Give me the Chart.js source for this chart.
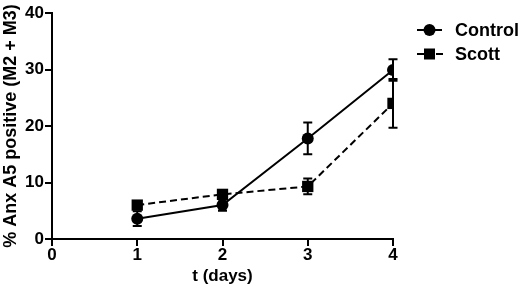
<!DOCTYPE html>
<html>
<head>
<meta charset="utf-8">
<script src="https://cdn.jsdelivr.net/npm/chart.js@4.4.1/dist/chart.umd.min.js"></script>
<style>
  html, body { margin: 0; padding: 0; background: #fff; }
</style>
</head>
<body>
<canvas id="chart" width="520" height="294"></canvas>
<script>
// values (mean and SEM per day)
const days = [1, 2, 3, 4];
const controlMean = [3.6, 6.0, 17.8, 29.9];
const controlErr = [1.3, 1.0, 2.8, 1.9];
const scottMean = [6.0, 7.9, 9.3, 24.0];
const scottErr = [0.5, 0.6, 1.4, 4.3];
const xTicks = [0, 1, 2, 3, 4];
const yTicks = [0, 10, 20, 30, 40];
const seriesNames = ['Control', 'Scott'];

const FONT = "'Liberation Sans', Arial, sans-serif";
const font = size => ({ family: FONT, size, weight: 'bold' });

const errorBars = {
    id: 'errorBars',
    afterDatasetsDraw(chart) {
        const { ctx, scales: { x, y } } = chart;
        ctx.save();
        ctx.strokeStyle = '#000';
        ctx.lineWidth = 2;
        [[controlMean, controlErr], [scottMean, scottErr]].forEach(([mean, err]) => {
            days.forEach((d, i) => {
                const px = x.getPixelForValue(d);
                const top = y.getPixelForValue(mean[i] + err[i]);
                const bot = y.getPixelForValue(mean[i] - err[i]);
                ctx.beginPath();
                ctx.moveTo(px, top); ctx.lineTo(px, bot);
                ctx.moveTo(px - 4.5, top); ctx.lineTo(px + 4.5, top);
                ctx.moveTo(px - 4.5, bot); ctx.lineTo(px + 4.5, bot);
                ctx.stroke();
            });
        });
        ctx.restore();
    }
};

// legend: line sample with marker, like the original
const sideLegend = {
    id: 'sideLegend',
    afterDraw(chart) {
        const { ctx } = chart;
        const x0 = chart.chartArea.right + 24;
        ctx.save();
        ctx.strokeStyle = '#000';
        ctx.fillStyle = '#000';
        ctx.lineWidth = 2;
        ctx.font = `bold 18px ${FONT}`;
        ctx.textBaseline = 'middle';

        let yy = 30;
        ctx.beginPath();
        ctx.moveTo(x0, yy); ctx.lineTo(x0 + 25, yy);
        ctx.stroke();
        ctx.beginPath();
        ctx.arc(x0 + 12.5, yy, 6, 0, Math.PI * 2);
        ctx.fill();
        ctx.fillText(seriesNames[0], x0 + 38, yy + 1);

        yy = 54;
        ctx.beginPath();
        ctx.moveTo(x0, yy); ctx.lineTo(x0 + 7, yy);
        ctx.moveTo(x0 + 19, yy); ctx.lineTo(x0 + 26, yy);
        ctx.stroke();
        ctx.fillRect(x0 + 7, yy - 5.5, 11, 11);
        ctx.fillText(seriesNames[1], x0 + 38, yy + 1);
        ctx.restore();
    }
};

new Chart(document.getElementById('chart'), {
    type: 'scatter',
    data: {
        datasets: [
            {
                label: seriesNames[0],
                data: days.map((d, i) => ({ x: d, y: controlMean[i] })),
                showLine: true,
                borderColor: '#000',
                backgroundColor: '#000',
                borderWidth: 2,
                pointStyle: 'circle',
                pointRadius: 6,
                pointBorderWidth: 0
            },
            {
                label: seriesNames[1],
                data: days.map((d, i) => ({ x: d, y: scottMean[i] })),
                showLine: true,
                borderColor: '#000',
                backgroundColor: '#000',
                borderWidth: 2,
                borderDash: [7, 4],
                pointStyle: 'rect',
                pointRadius: 8,
                pointBorderWidth: 0
            }
        ]
    },
    options: {
        responsive: false,
        animation: false,
        layout: { padding: { left: 0, right: 127, top: 13, bottom: 7 } },
        plugins: { legend: { display: false }, tooltip: { enabled: false } },
        scales: {
            x: {
                type: 'linear',
                min: 0,
                max: 4,
                afterBuildTicks: s => { s.ticks = xTicks.map(v => ({ value: v })); },
                afterFit: s => { s.height = 48; },
                grid: { drawOnChartArea: false, color: '#000', lineWidth: 2, tickLength: 7 },
                border: { color: '#000', width: 2 },
                ticks: { color: '#000', font: font(17), padding: -1, maxRotation: 0 },
                title: { display: true, text: 't (days)', color: '#000', font: font(17), padding: 0 }
            },
            y: {
                min: 0,
                max: 40,
                afterBuildTicks: s => { s.ticks = yTicks.map(v => ({ value: v })); },
                afterFit: s => { s.width = 52; },
                grid: { drawOnChartArea: false, color: '#000', lineWidth: 2, tickLength: 7 },
                border: { color: '#000', width: 2 },
                ticks: { color: '#000', font: font(17), padding: 1 },
                title: { display: true, text: '% Anx A5 positive (M2 + M3)', color: '#000', font: font(18), padding: 0 }
            }
        }
    },
    plugins: [errorBars, sideLegend]
});
</script>
</body>
</html>
